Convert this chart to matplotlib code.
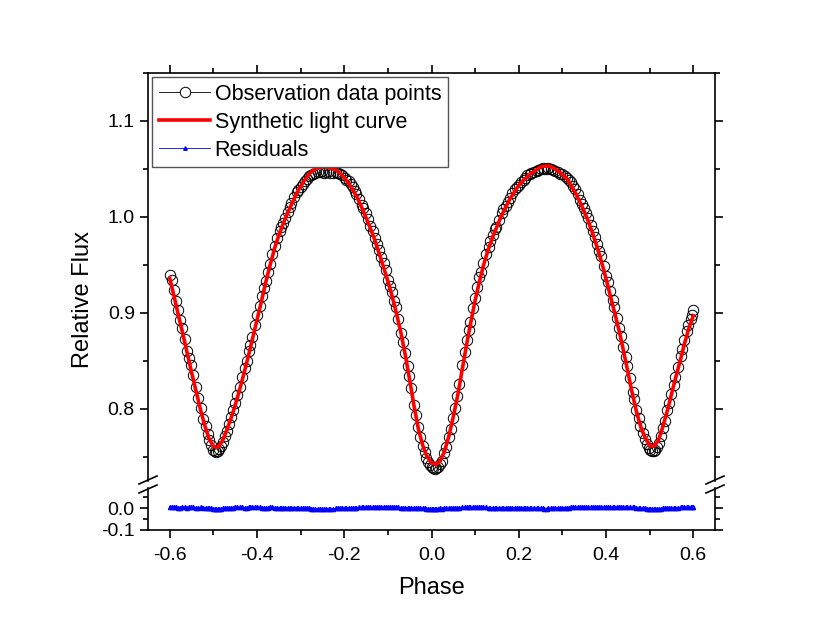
import numpy as np
import matplotlib
matplotlib.use('Agg')
from matplotlib import pyplot as plt
from matplotlib.lines import Line2D
from matplotlib.ticker import MultipleLocator, FormatStrFormatter

plt.rcParams['font.family'] = ['Liberation Sans', 'DejaVu Sans']
plt.rcParams['axes.unicode_minus'] = False

# synthetic light curve, read every 0.01 in phase from -0.60 to 0.60
model_phase = np.linspace(-0.6, 0.6, 121)
model_flux = [
    0.936, 0.917, 0.897, 0.878, 0.858, 0.838, 0.819, 0.800, 0.783, 0.769,
    0.761, 0.760, 0.766, 0.777, 0.790, 0.804, 0.820, 0.837, 0.855, 0.874,
    0.893, 0.912, 0.932, 0.950, 0.967, 0.981, 0.993, 1.004, 1.014, 1.024,
    1.032, 1.039, 1.045, 1.049, 1.051, 1.052, 1.052, 1.051, 1.049, 1.046,
    1.041, 1.035, 1.028, 1.020, 1.010, 0.999, 0.988, 0.976, 0.962, 0.948,
    0.933, 0.917, 0.899, 0.879, 0.856, 0.830, 0.803, 0.779, 0.762, 0.750,
    0.744, 0.742, 0.746, 0.756, 0.772, 0.792, 0.814, 0.840, 0.866, 0.890,
    0.913, 0.933, 0.951, 0.966, 0.979, 0.990, 1.001, 1.010, 1.019, 1.026,
    1.033, 1.038, 1.042, 1.046, 1.049, 1.052, 1.053, 1.053, 1.051, 1.048,
    1.044, 1.040, 1.033, 1.025, 1.016, 1.006, 0.995, 0.982, 0.968, 0.953,
    0.936, 0.918, 0.900, 0.882, 0.861, 0.839, 0.817, 0.797, 0.781, 0.770,
    0.762, 0.761, 0.767, 0.781, 0.797, 0.815, 0.833, 0.850, 0.868, 0.884,
    0.897,
]

# observed points (two interleaved runs)
obs_phase = [
    -0.600, -0.591, -0.582, -0.571, -0.560, -0.552, -0.541, -0.529, -0.518, -0.509,
    -0.501, -0.493, -0.487, -0.478, -0.469, -0.459, -0.451, -0.440, -0.428, -0.419,
    -0.411, -0.399, -0.388, -0.380, -0.371, -0.359, -0.348, -0.341, -0.330, -0.321,
    -0.309, -0.300, -0.289, -0.280, -0.272, -0.261, -0.250, -0.241, -0.232, -0.219,
    -0.210, -0.199, -0.190, -0.181, -0.172, -0.160, -0.151, -0.140, -0.129, -0.121,
    -0.110, -0.099, -0.091, -0.082, -0.069, -0.060, -0.051, -0.040, -0.031, -0.020,
    -0.012, -0.003, 0.004, 0.011, 0.019, 0.029, 0.040, 0.049, 0.059, 0.071,
    0.081, 0.089, 0.100, 0.110, 0.119, 0.131, 0.140, 0.149, 0.161, 0.170,
    0.179, 0.191, 0.200, 0.211, 0.220, 0.229, 0.241, 0.250, 0.259, 0.268,
    0.279, 0.290, 0.300, 0.311, 0.320, 0.329, 0.341, 0.350, 0.359, 0.371,
    0.380, 0.389, 0.401, 0.410, 0.419, 0.431, 0.440, 0.449, 0.461, 0.470,
    0.479, 0.489, 0.498, 0.506, 0.513, 0.521, 0.530, 0.541, 0.550, 0.559,
    0.571, 0.580, 0.589, 0.600,
    -0.596, -0.586, -0.577, -0.566, -0.556, -0.547, -0.535, -0.523, -0.513, -0.505,
    -0.497, -0.490, -0.483, -0.473, -0.464, -0.455, -0.445, -0.434, -0.424, -0.415,
    -0.405, -0.394, -0.384, -0.375, -0.365, -0.354, -0.344, -0.336, -0.325, -0.315,
    -0.305, -0.295, -0.285, -0.276, -0.266, -0.256, -0.246, -0.236, -0.226, -0.214,
    -0.205, -0.195, -0.185, -0.176, -0.166, -0.156, -0.145, -0.135, -0.125, -0.115,
    -0.105, -0.095, -0.086, -0.076, -0.065, -0.055, -0.046, -0.036, -0.026, -0.016,
    -0.008, 0.001, 0.007, 0.015, 0.024, 0.034, 0.044, 0.054, 0.064, 0.076,
    0.085, 0.095, 0.105, 0.114, 0.125, 0.135, 0.145, 0.155, 0.165, 0.175,
    0.185, 0.195, 0.205, 0.215, 0.225, 0.235, 0.245, 0.255, 0.264, 0.274,
    0.284, 0.295, 0.305, 0.315, 0.325, 0.335, 0.345, 0.355, 0.365, 0.375,
    0.385, 0.395, 0.405, 0.415, 0.425, 0.435, 0.445, 0.455, 0.465, 0.475,
    0.484, 0.493, 0.502, 0.509, 0.517, 0.526, 0.535, 0.545, 0.555, 0.565,
    0.575, 0.585, 0.594, 0.597,
]
obs_flux = [
    0.940, 0.924, 0.903, 0.884, 0.860, 0.846, 0.823, 0.801, 0.782, 0.768,
    0.757, 0.755, 0.758, 0.766, 0.777, 0.792, 0.806, 0.823, 0.843, 0.860,
    0.875, 0.898, 0.918, 0.933, 0.951, 0.970, 0.985, 0.994, 1.005, 1.015,
    1.026, 1.031, 1.038, 1.043, 1.045, 1.047, 1.048, 1.047, 1.046, 1.047,
    1.045, 1.041, 1.037, 1.031, 1.024, 1.013, 1.004, 0.991, 0.978, 0.966,
    0.952, 0.934, 0.922, 0.906, 0.879, 0.858, 0.834, 0.804, 0.781, 0.761,
    0.749, 0.742, 0.739, 0.739, 0.743, 0.754, 0.771, 0.791, 0.814, 0.846,
    0.872, 0.891, 0.916, 0.937, 0.952, 0.969, 0.981, 0.990, 1.004, 1.011,
    1.020, 1.029, 1.033, 1.039, 1.044, 1.046, 1.048, 1.050, 1.050, 1.051,
    1.049, 1.047, 1.045, 1.041, 1.036, 1.029, 1.018, 1.009, 0.999, 0.985,
    0.972, 0.959, 0.939, 0.923, 0.906, 0.884, 0.865, 0.845, 0.818, 0.799,
    0.782, 0.769, 0.759, 0.756, 0.757, 0.765, 0.780, 0.799, 0.816, 0.833,
    0.855, 0.872, 0.888, 0.903,
    0.934, 0.913, 0.893, 0.873, 0.853, 0.835, 0.811, 0.790, 0.774, 0.762,
    0.756, 0.756, 0.761, 0.772, 0.784, 0.799, 0.815, 0.833, 0.850, 0.867,
    0.887, 0.907, 0.926, 0.943, 0.961, 0.978, 0.990, 0.999, 1.010, 1.021,
    1.028, 1.034, 1.040, 1.044, 1.046, 1.047, 1.046, 1.048, 1.046, 1.046,
    1.044, 1.039, 1.034, 1.027, 1.019, 1.009, 0.998, 0.985, 0.972, 0.958,
    0.945, 0.928, 0.913, 0.894, 0.870, 0.845, 0.822, 0.794, 0.771, 0.755,
    0.745, 0.740, 0.738, 0.740, 0.746, 0.760, 0.779, 0.801, 0.826, 0.859,
    0.882, 0.905, 0.927, 0.943, 0.961, 0.975, 0.987, 0.997, 1.008, 1.016,
    1.025, 1.031, 1.036, 1.041, 1.045, 1.047, 1.049, 1.051, 1.050, 1.050,
    1.048, 1.045, 1.043, 1.039, 1.032, 1.024, 1.014, 1.004, 0.992, 0.979,
    0.965, 0.949, 0.932, 0.914, 0.895, 0.876, 0.854, 0.832, 0.810, 0.791,
    0.775, 0.764, 0.757, 0.756, 0.760, 0.772, 0.788, 0.806, 0.825, 0.844,
    0.863, 0.881, 0.894, 0.898,
]
residuals = [
    0.004, 0.005, 0.002, 0.004, 0.002, 0.004, 0.002, 0.003, 0.002, 0.000,
    -0.004, -0.005, -0.004, -0.002, -0.001, 0.001, 0.003, 0.003, 0.002, 0.003,
    0.003, 0.003, 0.002, 0.001, 0.003, 0.002, 0.002, 0.002, 0.001, 0.002,
    0.001, -0.001, -0.001, -0.002, -0.003, -0.004, -0.004, -0.005, -0.005, -0.002,
    -0.001, 0.001, 0.002, 0.002, 0.002, 0.003, 0.004, 0.003, 0.003, 0.003,
    0.004, 0.003, 0.003, 0.003, 0.002, 0.002, 0.001, 0.001, 0.000, -0.001,
    -0.003, -0.004, -0.004, -0.003, -0.002, -0.001, -0.001, 0.001, 0.002, 0.003,
    0.004, 0.003, 0.003, 0.004, 0.003, 0.002, 0.002, 0.001, 0.002, 0.001,
    0.002, 0.002, 0.000, 0.001, 0.002, 0.000, -0.001, -0.002, -0.003, -0.002,
    -0.002, -0.001, 0.001, 0.002, 0.003, 0.003, 0.003, 0.003, 0.003, 0.004,
    0.004, 0.004, 0.005, 0.005, 0.004, 0.004, 0.004, 0.004, 0.003, 0.002,
    0.000, -0.002, -0.004, -0.005, -0.005, -0.003, -0.001, 0.000, 0.001, 0.002,
    0.004, 0.004, 0.004, 0.005,
    0.005, 0.004, 0.002, 0.003, 0.003, 0.003, 0.002, 0.001, 0.001, -0.002,
    -0.005, -0.004, -0.003, -0.002, 0.000, 0.002, 0.003, 0.003, 0.002, 0.003,
    0.004, 0.003, 0.002, 0.002, 0.003, 0.002, 0.002, 0.002, 0.001, 0.002,
    0.000, -0.002, -0.002, -0.003, -0.004, -0.005, -0.006, -0.004, -0.004, -0.001,
    0.000, 0.001, 0.002, 0.002, 0.003, 0.003, 0.004, 0.003, 0.003, 0.003,
    0.004, 0.003, 0.003, 0.003, 0.002, 0.002, 0.001, 0.001, -0.001, -0.002,
    -0.004, -0.004, -0.004, -0.003, -0.003, -0.002, -0.001, 0.000, 0.002, 0.003,
    0.004, 0.003, 0.004, 0.003, 0.003, 0.002, 0.002, 0.001, 0.002, 0.001,
    0.002, 0.001, 0.000, 0.001, 0.001, -0.001, -0.002, -0.002, -0.003, -0.002,
    -0.002, -0.001, 0.001, 0.002, 0.003, 0.003, 0.003, 0.003, 0.003, 0.004,
    0.004, 0.004, 0.005, 0.005, 0.004, 0.004, 0.004, 0.004, 0.003, 0.002,
    -0.001, -0.003, -0.005, -0.005, -0.005, -0.003, -0.001, 0.000, 0.001, 0.002,
    0.004, 0.004, 0.004, 0.005,
]

W, H = 830, 636
fig = plt.figure(figsize=(W / 100, H / 100), dpi=100)

left, right = 148 / W, 715 / W
ax = fig.add_axes([left, 1 - 481 / H, right - left, (481 - 73) / H])
axr = fig.add_axes([left, 1 - 530 / H, right - left, (530 - 488) / H], sharex=ax)

ax.plot(obs_phase, obs_flux, ls='none', marker='o', ms=7.5, mfc='none',
        mec='black', mew=0.7, zorder=2)
ax.plot(model_phase, model_flux, color='red', lw=2.6, zorder=3)

order = np.argsort(obs_phase)
axr.plot(np.asarray(obs_phase)[order], np.asarray(residuals)[order],
         color='blue', lw=0.6, marker='^', ms=3, mec='blue', mfc='blue',
         zorder=2)

ax.set_xlim(-0.65, 0.65)
ax.set_ylim(0.725, 1.15)
axr.set_ylim(-0.1, 0.091)

for a in (ax, axr):
    for s in a.spines.values():
        s.set_linewidth(1.2)
    a.tick_params(which='both', direction='out', width=1.2, labelsize=14,
                  left=True, right=True)
    a.tick_params(which='major', length=6)
    a.tick_params(which='minor', length=3.5)
    a.yaxis.set_major_formatter(FormatStrFormatter('%.1f'))

ax.spines['bottom'].set_visible(False)
axr.spines['top'].set_visible(False)
ax.tick_params(which='both', top=True, bottom=False, labelbottom=False)
axr.tick_params(which='both', top=False, bottom=True)
axr.tick_params(axis='x', which='major', pad=6)

ax.xaxis.set_major_locator(MultipleLocator(0.2))
ax.xaxis.set_minor_locator(MultipleLocator(0.1))
ax.xaxis.set_major_formatter(FormatStrFormatter('%.1f'))
ax.yaxis.set_major_locator(MultipleLocator(0.1))
ax.yaxis.set_minor_locator(MultipleLocator(0.05))
axr.yaxis.set_major_locator(MultipleLocator(0.1))
axr.yaxis.set_minor_locator(MultipleLocator(0.05))

# axis break marks
for xc in (148, 715):
    for yc in (480, 489):
        fig.add_artist(Line2D([(xc - 9) / W, (xc + 9) / W],
                              [1 - (yc + 4) / H, 1 - (yc - 4) / H],
                              color='black', lw=1.2))

fig.text(83 / W, 1 - 300 / H, 'Relative Flux', rotation=90,
         ha='center', va='center', fontsize=17)
fig.text(431.5 / W, 1 - 588 / H, 'Phase', ha='center', va='center', fontsize=17)

handles = [
    Line2D([], [], color='black', lw=0.6, marker='o', ms=7.5, mfc='white',
           mec='black', mew=0.7),
    Line2D([], [], color='red', lw=2.6),
    Line2D([], [], color='blue', lw=0.6, marker='^', ms=2.5),
]
labels = ['Observation data points', 'Synthetic light curve', 'Residuals']
leg = ax.legend(handles, labels, loc='upper left', fontsize=15.5, numpoints=1,
                handlelength=2.4, handletextpad=0.2, labelspacing=0.32,
                borderpad=0.3, borderaxespad=0.2, fancybox=False,
                edgecolor='#555555', framealpha=1)
leg.get_frame().set_linewidth(1.0)

fig.savefig('out.png', dpi=100)
